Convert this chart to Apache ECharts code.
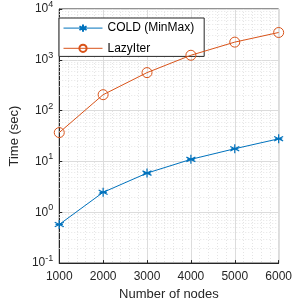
<!DOCTYPE html>
<html><head><meta charset="utf-8">
<script src="https://cdn.jsdelivr.net/npm/echarts@6/dist/echarts.min.js"></script>
<style>html,body{margin:0;padding:0;background:#fff}#c{width:295px;height:306px}</style>
</head><body><div id="c"></div>
<script>
var nodes = [1000, 2000, 3000, 4000, 5000, 6000];
var coldMinMax = [0.575, 2.47, 5.9, 11, 17.8, 27.9];
var lazyIter = [37, 206, 560, 1230, 2230, 3450];
var xTicks = [1000, 2000, 3000, 4000, 5000, 6000];
var yExpMin = -1, yExpMax = 4;

var minorY = [];
for (var k = yExpMin; k < yExpMax; k++) {
  for (var m = 2; m <= 9; m++) minorY.push({yAxis: m * Math.pow(10, k)});
}
var font = 'Liberation Sans, Arial, sans-serif';
var asterisk = 'path://M0,-10L0,10M-8.66,-5L8.66,5M-8.66,5L8.66,-5M-7,0L7,0';
var chart = echarts.init(document.getElementById('c'), null, {renderer: 'canvas'});
chart.setOption({
  animation: false,
  backgroundColor: '#fff',
  textStyle: {fontFamily: font},
  grid: {left: 50, right: 14, top: 6, bottom: 37, show: true, borderColor: '#262626', borderWidth: 1, backgroundColor: 'transparent'},
  legend: {
    left: 59, top: 18, orient: 'vertical', itemGap: 8,
    padding: [4, 10, 2, 4],
    backgroundColor: '#fff', borderColor: '#262626', borderWidth: 1,
    itemWidth: 39, itemHeight: 9,
    lineStyle: {width: 1},
    textStyle: {fontSize: 12, color: '#000', fontFamily: font},
    data: ['COLD (MinMax)', 'LazyIter']
  },
  xAxis: [{
    type: 'value', min: xTicks[0], max: xTicks[xTicks.length - 1], interval: 1000,
    name: 'Number of nodes', nameLocation: 'middle', nameGap: 23,
    nameTextStyle: {fontSize: 13, color: '#262626'},
    axisLine: {lineStyle: {color: '#262626'}},
    axisTick: {inside: true, length: 3, lineStyle: {color: '#262626'}},
    axisLabel: {fontSize: 12, color: '#262626', margin: 8, formatter: function (v) { return String(v); }},
    splitLine: {show: true, lineStyle: {color: '#dcdcdc', width: 1}},
    minorTick: {show: false, splitNumber: 5},
    minorSplitLine: {show: true, lineStyle: {color: '#e4e4e4', type: [1, 2], width: 1}}
  }],
  yAxis: [{
    type: 'log', logBase: 10, min: Math.pow(10, yExpMin), max: Math.pow(10, yExpMax),
    name: 'Time (sec)', nameLocation: 'middle', nameGap: 34,
    nameTextStyle: {fontSize: 13, color: '#262626'},
    axisLine: {lineStyle: {color: '#262626'}},
    axisTick: {inside: true, length: 3, lineStyle: {color: '#262626'}},
    axisLabel: {
      fontSize: 12, color: '#262626', margin: 6,
      formatter: function (v) { return '{b|10}{s|' + Math.round(Math.log10(v)) + '}'; },
      rich: {b: {fontSize: 12, color: '#262626', fontFamily: font}, s: {fontSize: 9, color: '#262626', fontFamily: font, padding: [0, 0, 9, 0]}}
    },
    splitLine: {show: true, lineStyle: {color: '#dcdcdc', width: 1}}
  }],
  series: [{
    name: 'COLD (MinMax)', type: 'line', data: nodes.map(function (x, i) { return [x, coldMinMax[i]]; }),
    color: '#0072BD', lineStyle: {width: 1, color: '#0072BD'},
    symbol: asterisk, symbolSize: 9, showAllSymbol: true,
    itemStyle: {color: 'none', borderColor: '#0072BD', borderWidth: 1.2},
    z: 5,
    markLine: {silent: true, symbol: 'none', label: {show: false}, animation: false,
      lineStyle: {color: '#e4e4e4', type: [1, 2], width: 1}, data: minorY, z: 1}
  }, {
    name: 'LazyIter', type: 'line', data: nodes.map(function (x, i) { return [x, lazyIter[i]]; }),
    color: '#D95319', lineStyle: {width: 1, color: '#D95319'},
    symbol: 'circle', symbolSize: 10, showAllSymbol: true,
    itemStyle: {color: 'none', borderColor: '#D95319', borderWidth: 1},
    z: 5
  }]
});
</script></body></html>
